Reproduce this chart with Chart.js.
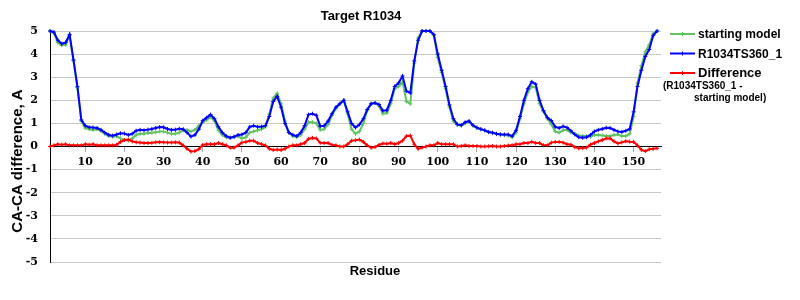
<!DOCTYPE html>
<html>
<head>
<meta charset="utf-8">
<script src="https://cdn.jsdelivr.net/npm/chart.js@4/dist/chart.umd.min.js"></script>
<style>
html,body{margin:0;padding:0;background:#fff;}
#wrap{width:800px;height:300px;position:relative;}
</style>
</head>
<body>
<div id="wrap"><canvas id="c"></canvas></div>
<script>
const titleText = "Target R1034";
const xTitle = "Residue";
const yTitle = "CA-CA difference, A";
const seriesNames = ["starting model", "R1034TS360_1", "Difference"];
const diffNote = ["(R1034TS360_1 -", "starting model)"];
const xTickLabels = [10,20,30,40,50,60,70,80,90,100,110,120,130,140,150];
const yTickLabels = [-5,-4,-3,-2,-1,0,1,2,3,4,5];

const residues = [
1,2,3,4,5,6,7,8,9,10,11,12,13,14,15,16,17,18,19,20,
21,22,23,24,25,26,27,28,29,30,31,32,33,34,35,36,37,38,39,40,
41,42,43,44,45,46,47,48,49,50,51,52,53,54,55,56,57,58,59,60,
61,62,63,64,65,66,67,68,69,70,71,72,73,74,75,76,77,78,79,80,
81,82,83,84,85,86,87,88,89,90,91,92,93,94,95,96,97,98,99,100,
101,102,103,104,105,106,107,108,109,110,111,112,113,114,115,116,117,118,119,120,
121,122,123,124,125,126,127,128,129,130,131,132,133,134,135,136,137,138,139,140,
141,142,143,144,145,146,147,148,149,150,151,152,153,154,155,156];

const startingModel = [
5.0,4.9,4.5,4.38,4.4,4.8,3.7,2.55,1.1,0.8,
0.75,0.72,0.75,0.68,0.55,0.45,0.42,0.45,0.35,0.28,
0.25,0.35,0.5,0.55,0.55,0.58,0.6,0.62,0.65,0.65,
0.6,0.55,0.55,0.6,0.7,0.72,0.65,0.72,0.9,1.05,
1.15,1.28,1.1,0.7,0.5,0.4,0.38,0.42,0.45,0.35,
0.4,0.6,0.65,0.7,0.75,0.85,1.4,2.1,2.3,1.85,
1.1,0.6,0.45,0.4,0.5,0.75,1.05,1.05,1.0,0.72,
0.75,0.95,1.35,1.65,1.85,2.0,1.4,0.75,0.55,0.65,
1.0,1.55,1.85,1.9,1.75,1.42,1.45,1.85,2.5,2.6,
2.8,1.95,1.85,3.6,4.7,5.0,5.0,5.0,4.8,3.85,
3.2,2.5,1.7,1.1,0.95,0.9,1.0,1.08,0.9,0.8,
0.75,0.7,0.62,0.58,0.55,0.52,0.5,0.48,0.4,0.6,
1.2,1.85,2.35,2.6,2.55,1.85,1.5,1.2,0.95,0.65,
0.6,0.7,0.72,0.6,0.55,0.48,0.45,0.45,0.42,0.5,
0.5,0.48,0.45,0.45,0.5,0.52,0.45,0.45,0.55,1.3,
2.75,3.5,4.1,4.4,4.9,5.0];

const model = [
5.0,4.95,4.6,4.45,4.5,4.85,3.75,2.6,1.15,0.9,
0.83,0.82,0.8,0.72,0.6,0.5,0.47,0.52,0.57,0.56,
0.5,0.55,0.68,0.72,0.7,0.73,0.76,0.8,0.84,0.83,
0.76,0.72,0.73,0.77,0.75,0.6,0.43,0.5,0.75,1.12,
1.25,1.38,1.2,0.85,0.6,0.45,0.38,0.42,0.5,0.52,
0.6,0.85,0.9,0.85,0.86,0.9,1.3,1.95,2.17,1.7,
1.0,0.6,0.5,0.45,0.6,0.9,1.38,1.42,1.35,0.88,
0.9,1.1,1.42,1.7,1.85,2.0,1.5,1.0,0.82,0.95,
1.2,1.6,1.85,1.88,1.82,1.55,1.57,2.0,2.6,2.75,
3.05,2.4,2.32,3.7,4.6,5.0,5.0,5.0,4.85,4.0,
3.3,2.6,1.8,1.2,0.95,0.92,1.05,1.1,0.92,0.82,
0.75,0.7,0.63,0.6,0.55,0.52,0.52,0.52,0.45,0.7,
1.3,2.0,2.5,2.8,2.7,2.0,1.55,1.25,1.12,0.85,
0.8,0.87,0.82,0.68,0.52,0.4,0.38,0.4,0.5,0.65,
0.72,0.76,0.81,0.8,0.72,0.65,0.63,0.68,0.76,1.5,
2.6,3.3,3.9,4.2,4.8,5.0];

const difference = [
0.0,0.05,0.1,0.08,0.1,0.05,0.05,0.05,0.05,0.1,
0.08,0.1,0.05,0.05,0.05,0.05,0.05,0.07,0.2,0.28,
0.3,0.22,0.18,0.17,0.15,0.15,0.16,0.18,0.19,0.18,
0.17,0.17,0.18,0.17,0.05,-0.1,-0.22,-0.2,-0.12,0.07,
0.1,0.1,0.1,0.15,0.1,0.05,-0.05,-0.05,0.05,0.17,
0.2,0.25,0.25,0.15,0.1,0.05,-0.1,-0.15,-0.13,-0.15,
-0.1,0.0,0.05,0.05,0.1,0.15,0.33,0.37,0.35,0.16,
0.15,0.15,0.07,0.05,0.0,0.0,0.1,0.25,0.27,0.3,
0.2,0.05,-0.05,-0.02,0.07,0.13,0.12,0.15,0.1,0.15,
0.25,0.45,0.47,0.1,-0.1,-0.05,0.0,0.05,0.05,0.15,
0.1,0.1,0.1,0.1,0.0,0.02,0.05,0.02,0.02,0.02,
0.0,0.0,0.01,0.02,0.0,0.0,0.02,0.04,0.05,0.1,
0.1,0.15,0.15,0.2,0.15,0.15,0.05,0.05,0.17,0.2,
0.2,0.17,0.1,0.08,-0.03,-0.08,-0.07,-0.05,0.08,0.15,
0.22,0.28,0.35,0.35,0.22,0.13,0.18,0.23,0.21,0.2,
0.05,-0.15,-0.2,-0.12,-0.1,-0.08];

const GREEN = '#5fc35f';
const BLUE = '#0000ff';
const RED = '#ff0000';
const colors = [GREEN, BLUE, RED];

function pts(vals){ return residues.map((r,i)=>({x:r, y:vals[i]})); }

function ds(label, vals, color, order){
  return {
    label: label, data: pts(vals), borderColor: color, backgroundColor: color,
    borderWidth: 2, pointStyle: 'cross', pointRadius: 2, pointBorderWidth: 1,
    pointBorderColor: color, pointHoverRadius: 0, tension: 0, fill: false,
    order: order, clip: 3
  };
}

const textPlugin = {
  id: 'texts',
  afterDraw(chart){
    const ctx = chart.ctx;
    ctx.save();
    ctx.fillStyle = '#000';
    ctx.textBaseline = 'alphabetic';
    ctx.textAlign = 'center';
    ctx.font = 'bold 13px "Liberation Sans", Arial, sans-serif';
    ctx.fillText(titleText, 361, 20);
    ctx.fillText(xTitle, 375, 275);
    ctx.save();
    ctx.translate(22, 161);
    ctx.rotate(-Math.PI/2);
    ctx.font = 'bold 15px "Liberation Sans", Arial, sans-serif';
    ctx.fillText(yTitle, 0, 0);
    ctx.restore();
    // legend
    const ys = [34, 53.5, 73];
    ctx.textAlign = 'left';
    for (let i=0;i<3;i++){
      const y = ys[i];
      ctx.strokeStyle = colors[i];
      ctx.lineWidth = 2;
      ctx.beginPath(); ctx.moveTo(670, y); ctx.lineTo(695, y); ctx.stroke();
      ctx.lineWidth = 1;
      ctx.beginPath(); ctx.moveTo(682.5, y-2); ctx.lineTo(682.5, y+2); ctx.stroke();
      ctx.font = (i===2 ? 'bold 13px' : 'bold 12px') + ' "Liberation Sans", Arial, sans-serif';
      ctx.fillText(seriesNames[i], 698, y + 4);
    }
    ctx.font = 'bold 10px "Liberation Sans", Arial, sans-serif';
    ctx.fillText(diffNote[0], 663, 89);
    ctx.fillText(diffNote[1], 694, 101);
    ctx.restore();
  }
};

new Chart(document.getElementById('c'), {
  type: 'line',
  data: {
    datasets: [
      ds(seriesNames[0], startingModel, GREEN, 2),
      ds(seriesNames[1], model, BLUE, 1),
      ds(seriesNames[2], difference, RED, 0)
    ]
  },
  plugins: [textPlugin],
  options: {
    responsive: true,
    maintainAspectRatio: false,
    animation: false,
    events: [],
    layout: { padding: { top: 31, bottom: 38, left: 0, right: 139 } },
    plugins: { legend: { display: false }, title: { display: false }, tooltip: { enabled: false } },
    scales: {
      x: {
        type: 'linear', min: 1, max: 157,
        position: { y: 0 },
        afterBuildTicks(scale){ scale.ticks = xTickLabels.map(v=>({value:v})); },
        grid: { drawOnChartArea: false, drawTicks: true, tickLength: 5, color: '#a8a8a8' },
        border: { display: true, color: '#000', width: 1 },
        ticks: { autoSkip: false, maxRotation: 0, padding: 4, color: '#000',
                 font: { family: '"DejaVu Serif", serif', weight: 'bold', size: 11 } }
      },
      y: {
        type: 'linear', min: -5, max: 5,
        afterBuildTicks(scale){ scale.ticks = yTickLabels.map(v=>({value:v})); },
        afterFit(scale){ scale.width = 50; },
        grid: { drawTicks: false, color: (c)=> c.tick && c.tick.value===0 ? '#000' : '#c8c8c8' },
        border: { display: true, color: '#000', width: 1 },
        ticks: { padding: 12, color: '#000',
                 font: { family: '"DejaVu Serif", serif', weight: 'bold', size: 11 } }
      }
    }
  }
});
</script>
</body>
</html>
